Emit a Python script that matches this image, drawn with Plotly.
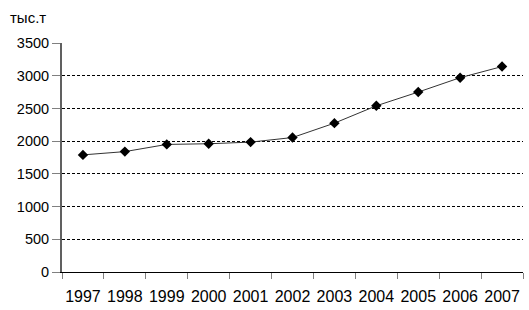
import plotly.graph_objects as go

years = ["1997", "1998", "1999", "2000", "2001", "2002", "2003", "2004", "2005", "2006", "2007"]
values = [1790, 1840, 1950, 1960, 1985, 2055, 2275, 2540, 2750, 2970, 3140]
y_ticks = [0, 500, 1000, 1500, 2000, 2500, 3000, 3500]

fig = go.Figure(go.Scatter(
    x=years, y=values, mode="lines+markers",
    line=dict(color="#333333", width=1),
    marker=dict(symbol="diamond", size=8, color="black"),
    cliponaxis=False,
))

fig.update_layout(
    width=529, height=310,
    margin=dict(l=62, r=6, t=43, b=38),
    paper_bgcolor="white", plot_bgcolor="white",
    showlegend=False,
    font=dict(family="Liberation Sans, Arial", color="black"),
)
fig.add_annotation(text="тыс.т", xref="paper", yref="paper", x=-0.117, y=1.065,
                   xanchor="left", yanchor="bottom", showarrow=False,
                   font=dict(size=15, family="Liberation Sans, Arial"))

fig.update_xaxes(
    type="category", range=[-0.5, 10.5], automargin=False, tickangle=0,
    tickson="boundaries", ticks="outside", ticklen=6, tickcolor="#808080",
    ticklabelstandoff=10,
    showline=True, linecolor="black", linewidth=1,
    showgrid=False, tickfont=dict(size=16),
)
fig.update_yaxes(
    range=[0, 3500], tickvals=y_ticks, ticks="outside", ticklen=8,
    automargin=False,
    tickcolor="#808080", showline=True, linecolor="#606060", linewidth=2,
    showgrid=True, gridcolor="black", gridwidth=1, griddash="3px,2px",
    zeroline=False, tickfont=dict(size=14.5),
)

fig.write_html("out.html")
